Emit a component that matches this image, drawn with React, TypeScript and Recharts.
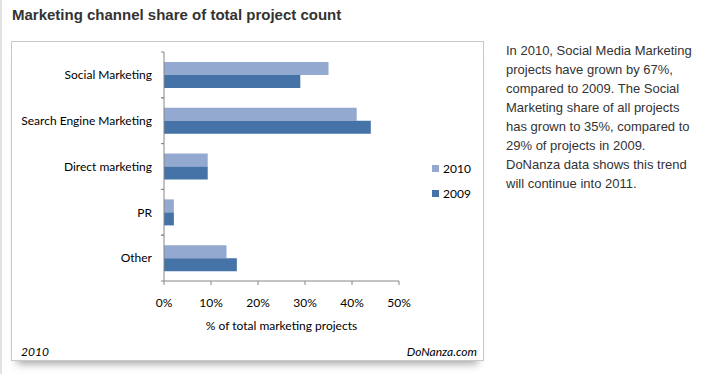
import React from 'react';
import { BarChart, Bar, XAxis, YAxis, Legend, Label } from 'recharts';

const categories = ['Social Marketing', 'Search Engine Marketing', 'Direct marketing', 'PR', 'Other'];
const share2010 = [35, 41, 9.3, 2.1, 13.3];
const share2009 = [29, 44, 9.3, 2.1, 15.5];
const xTicks = [0, 10, 20, 30, 40, 50];
const seriesOrder = ['2010', '2009'];

const data = categories.map((name, i) => ({ name, y2010: share2010[i], y2009: share2009[i] }));

const CHART_W = 471;
const CHART_H = 318;
const MARGIN = { top: 10, right: 84, left: 0, bottom: 0 };
const Y_W = 152;
const X_H = 79;
const PLOT_H = CHART_H - MARGIN.top - MARGIN.bottom - X_H;
const HALF_BAND = PLOT_H / categories.length / 2;

const AXIS = '#868686';
const LIGHT = '#93A9CF';
const DARK = '#4572A7';
const FONT = 'Lato, "Open Sans", sans-serif';

const CategoryTick = (props: any) => {
  const { x, y, payload } = props;
  const axisX = x + 12;
  return (
    <g>
      <line x1={axisX - 3} x2={axisX} y1={y - HALF_BAND} y2={y - HALF_BAND} stroke={AXIS} />
      <line x1={axisX - 3} x2={axisX} y1={y + HALF_BAND} y2={y + HALF_BAND} stroke={AXIS} />
      <text x={x} y={y} dy="0.35em" textAnchor="end" fontFamily={FONT} fontSize={12} fill="#000">
        {payload.value}
      </text>
    </g>
  );
};

const LegendBox = (props: any) => {
  const items = [...props.payload].sort((a: any, b: any) => seriesOrder.indexOf(a.value) - seriesOrder.indexOf(b.value));
  return (
    <div>
      {items.map((p: any) => (
        <div key={p.value} style={{ display: 'flex', alignItems: 'center', height: 25, fontFamily: FONT, fontSize: 12, color: '#000' }}>
          <span style={{ display: 'inline-block', width: 7, height: 7, background: p.color, marginRight: 4 }} />
          {p.value}
        </div>
      ))}
    </div>
  );
};

export default function App() {
  return (
    <div style={{ position: 'absolute', left: 0, top: 0, width: 702, height: 374, background: '#fff', overflow: 'hidden' }}>
      <div style={{ position: 'absolute', left: 0, top: 0, width: 2, height: 374, background: '#e2e2e2' }} />
      <div style={{ position: 'absolute', left: 12, top: 6, fontFamily: 'Arial, "Liberation Sans", sans-serif', fontWeight: 'bold', fontSize: 15, color: '#333', whiteSpace: 'nowrap' }}>
        Marketing channel share of total project count
      </div>
      <div
        style={{
          position: 'absolute', left: 11, top: 41, width: CHART_W, height: CHART_H,
          border: '1px solid #c8c8c8', background: '#fff',
          boxShadow: '0 9px 8px -6px rgba(0,0,0,0.35)',
        }}
      >
        <BarChart width={CHART_W} height={CHART_H} data={data} layout="vertical" margin={MARGIN} barGap={0}>
          <XAxis
            type="number"
            domain={[0, 50]}
            ticks={xTicks}
            tickFormatter={(v) => `${v}%`}
            height={X_H}
            stroke={AXIS}
            tickSize={4}
            tickMargin={13}
            tick={{ fontFamily: FONT, fontSize: 12, fill: '#000' }}
          >
            <Label value="% of total marketing projects" position="insideBottom" offset={30} style={{ fontFamily: FONT, fontSize: 12, fill: '#000' }} />
          </XAxis>
          <YAxis
            type="category"
            dataKey="name"
            width={Y_W}
            stroke={AXIS}
            tickLine={false}
            tickSize={3}
            tickMargin={9}
            tick={<CategoryTick />}
          />
          <Legend
            layout="vertical"
            align="center"
            verticalAlign="middle"
            wrapperStyle={{ left: 420, top: 114, width: 50 }}
            content={<LegendBox />}
          />
          <Bar dataKey="y2010" name="2010" fill={LIGHT} barSize={13} isAnimationActive={false} />
          <Bar dataKey="y2009" name="2009" fill={DARK} barSize={13} isAnimationActive={false} />
        </BarChart>
        <div style={{ position: 'absolute', left: 9, top: 302, fontFamily: FONT, fontStyle: 'italic', fontSize: 12, color: '#000' }}>2010</div>
        <div style={{ position: 'absolute', right: 6, top: 302, fontFamily: FONT, fontStyle: 'italic', fontSize: 12, color: '#000' }}>DoNanza.com</div>
      </div>
      <div style={{ position: 'absolute', left: 506, top: 41, fontFamily: 'Arial, "Liberation Sans", sans-serif', fontSize: 13, lineHeight: '19px', color: '#333', whiteSpace: 'nowrap' }}>
        <div>In 2010, Social Media Marketing</div>
        <div>projects have grown by 67%,</div>
        <div>compared to 2009. The Social</div>
        <div>Marketing share of all projects</div>
        <div>has grown to 35%, compared to</div>
        <div>29% of projects in 2009.</div>
        <div>DoNanza data shows this trend</div>
        <div>will continue into 2011.</div>
      </div>
    </div>
  );
}
